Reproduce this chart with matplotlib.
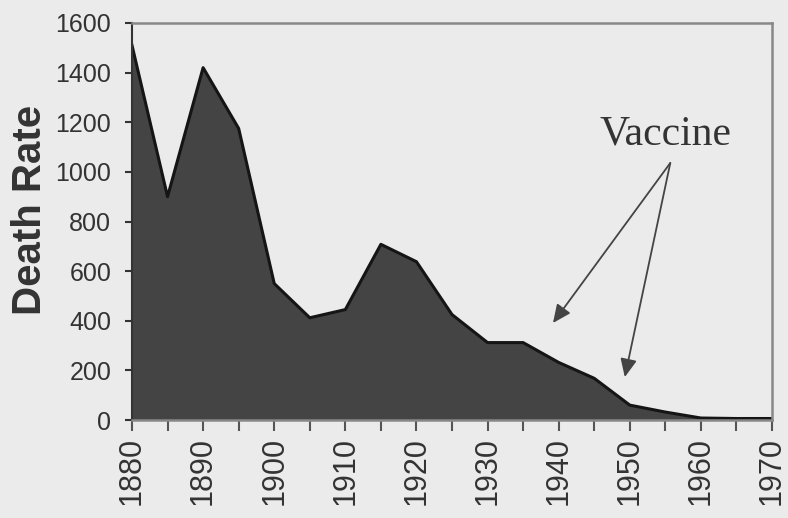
import matplotlib
matplotlib.use("Agg")
import matplotlib.pyplot as plt

years = [1880, 1885, 1890, 1895, 1900, 1905, 1910, 1915, 1920, 1925,
         1930, 1935, 1940, 1945, 1950, 1955, 1960, 1965, 1970]
death_rate = [1510, 900, 1420, 1175, 550, 412, 445, 708, 638, 425,
              312, 312, 232, 168, 60, 32, 8, 6, 6]
y_ticks = [0, 200, 400, 600, 800, 1000, 1200, 1400, 1600]
x_ticks = [1880, 1890, 1900, 1910, 1920, 1930, 1940, 1950, 1960, 1970]
x_minor = [1885, 1895, 1905, 1915, 1925, 1935, 1945, 1955, 1965]
annotation_text = "Vaccine"
arrow_targets = [(1939.2, 391), (1949.3, 173)]
arrow_source = (1955.7, 1036)
text_pos = (1955.0, 1150)

bg = "#ebebeb"
fig = plt.figure(figsize=(7.88, 5.18), dpi=100, facecolor=bg)
ax = fig.add_axes([132/788, 1-420/518, 640/788, 397/518], facecolor=bg)

ax.fill_between(years, death_rate, 0, color="#444444", linewidth=0)
ax.plot(years, death_rate, color="#151515", linewidth=2.2)

ax.set_xlim(1880, 1970)
ax.set_ylim(0, 1600)
ax.set_yticks(y_ticks)
ax.set_xticks(x_ticks)
ax.set_xticks(x_minor, minor=True)
ax.set_xticklabels([str(x) for x in x_ticks], rotation=90,
                   fontsize=22, family="Liberation Sans", color="#333333")
ax.set_yticklabels([str(y) for y in y_ticks],
                   fontsize=18, family="Liberation Sans", color="#333333")
ax.tick_params(axis="y", which="both", direction="out", length=5,
               width=1.5, color="#333333", pad=10)
ax.tick_params(axis="x", which="both", direction="out", length=8,
               width=1.5, color="#555555", pad=4)

for side in ["top", "right", "bottom"]:
    ax.spines[side].set_color("#888888")
    ax.spines[side].set_linewidth(1.8)
ax.spines["left"].set_color("#333333")
ax.spines["left"].set_linewidth(1.5)

ax.set_ylabel("Death Rate", fontsize=29, fontweight="bold",
              family="Liberation Sans", color="#333333")
ax.yaxis.set_label_coords(-0.129, 0.53)

ax.text(text_pos[0], text_pos[1], annotation_text, fontsize=30,
        family="Liberation Serif", color="#333333", ha="center", va="center")
for tx, ty in arrow_targets:
    ax.annotate("", xy=(tx, ty), xytext=arrow_source,
                arrowprops=dict(arrowstyle="-|>,head_length=1.1,head_width=0.5",
                                color="#444444", lw=1.3,
                                shrinkA=0, shrinkB=0))

fig.savefig("out.png", dpi=100, facecolor=bg)
